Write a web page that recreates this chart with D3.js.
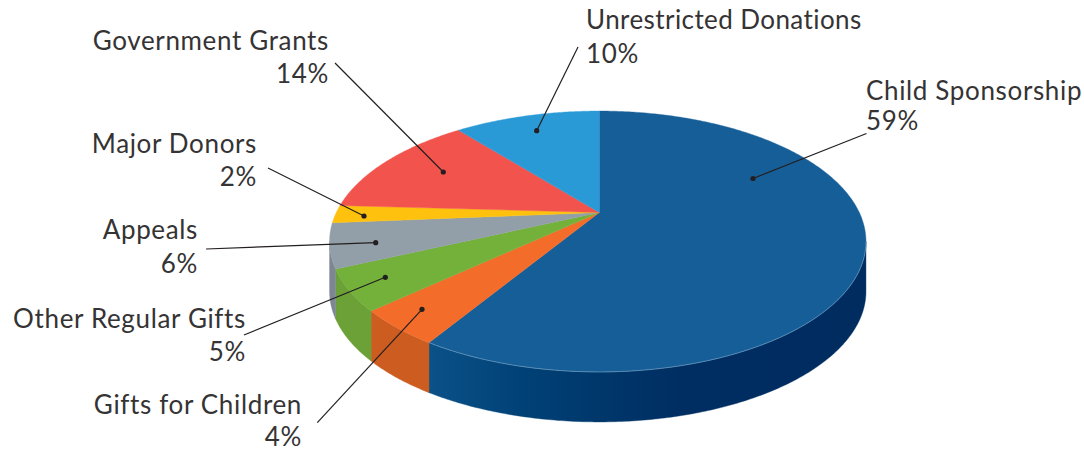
<!DOCTYPE html>
<html>
<head>
<meta charset="utf-8">
<script src="https://cdn.jsdelivr.net/npm/d3@7"></script>
<style>
html, body { margin: 0; padding: 0; background: #fff; }
svg { display: block; }
text { font-family: Lato, "Open Sans", sans-serif; font-size: 26px; letter-spacing: 0.65px; fill: #353334; }
</style>
</head>
<body>
<svg width="1084" height="451"></svg>
<script>
// clockwise from 12 o'clock
const categories = ["Child Sponsorship", "Gifts for Children", "Other Regular Gifts", "Appeals", "Major Donors", "Government Grants", "Unrestricted Donations"];
const percentLabels = ["59%", "4%", "5%", "6%", "2%", "14%", "10%"];
// wedge sizes as measured on the drawing (differ slightly from the printed labels)
const wedgeShares = [58.8, 4.4, 5, 5.5, 2.2, 13.3, 10.8];
const topColors = ["#165e97", "#f36c29", "#73b13b", "#929ea8", "#fec20e", "#f2544d", "#2a9ad7"];
const sideColors = ["url(#blueSide)", "#cc5c20", "#6ba136", "#7c8791", "#d9a50c", "#c9453f", "#2382b8"];

// label placement: text anchor, line 1 baseline, line 2 baseline, leader start, leader end (dot)
const callouts = [
  { x: 866, anchor: "start", y1: 99.5, y2: 129.5, from: [866.5, 133.5], to: [753, 178.5] },
  { x: 302, anchor: "end", y1: 414, y2: 445.5, from: [317.3, 422.7], to: [422, 309.3] },
  { x: 246, anchor: "end", y1: 328, y2: 361, from: [244, 335], to: [385.3, 277.3] },
  { x: 198, anchor: "end", y1: 239, y2: 273, from: [206, 249], to: [375.7, 242.7] },
  { x: 257, anchor: "end", y1: 153, y2: 186, from: [268, 168], to: [364, 216] },
  { x: 329, anchor: "end", y1: 50, y2: 83, from: [335, 63], to: [443.3, 172] },
  { x: 586, anchor: "start", y1: 29, y2: 63, from: [578, 47], to: [536.7, 130.7], spacing: 0.42 }
];

const svg = d3.select("svg");

// the disc is seen in perspective, so the centre sits above the middle of the ellipse
// left half is a touch wider than the right in the original
const cx = 599.3, cy = 212.5, depth = 50;
const persp = -0.2222, scaleRight = 260, scaleLeft = 263, scaleV = 124;

function project(angle, r = 1) {
  const u = r * Math.sin(angle), v = -r * Math.cos(angle);
  const w = 1 + persp * v;
  return [cx + (u > 0 ? scaleRight : scaleLeft) * u / w, cy + scaleV * v / w];
}

function arcPoints(a0, a1) {
  const n = Math.max(2, Math.ceil((a1 - a0) / 0.01));
  return d3.range(n + 1).map(i => project(a0 + (a1 - a0) * i / n));
}

const line = d3.line();
const pie = d3.pie().sort(null).value(d => d);
const slices = pie(wedgeShares);

const defs = svg.append("defs");
const grad = defs.append("linearGradient")
  .attr("id", "blueSide")
  .attr("gradientUnits", "userSpaceOnUse")
  .attr("x1", 428).attr("x2", 866).attr("y1", 0).attr("y2", 0);
[[0, "#0b5288"], [0.22, "#004176"], [0.45, "#003468"], [0.6, "#002d62"], [1, "#002c60"]].forEach(s => {
  grad.append("stop").attr("offset", s[0]).attr("stop-color", s[1]);
});

// only the front of the rim is visible: between the two side extremes of the ellipse
const frontStart = Math.PI / 2 + Math.asin(-persp);
const frontEnd = 2 * Math.PI - frontStart;

const sides = svg.append("g");
slices.forEach((d, i) => {
  const a0 = Math.max(d.startAngle, frontStart), a1 = Math.min(d.endAngle, frontEnd);
  if (a1 <= a0) return;
  const rim = arcPoints(a0, a1);
  const lower = rim.map(p => [p[0], p[1] + depth]).reverse();
  sides.append("path")
    .attr("d", line(rim.concat(lower)) + "Z")
    .attr("fill", sideColors[i])
    .attr("stroke", sideColors[i])
    .attr("stroke-width", 0.4);
});

const tops = svg.append("g");
slices.forEach((d, i) => {
  tops.append("path")
    .attr("d", line([[cx, cy]].concat(arcPoints(d.startAngle, d.endAngle))) + "Z")
    .attr("fill", topColors[i])
    .attr("stroke", topColors[i])
    .attr("stroke-width", 0.4);
});

// thin light edge along the front of the big slice
svg.append("path")
  .attr("d", line(arcPoints(frontStart, slices[0].endAngle)))
  .attr("fill", "none")
  .attr("stroke", "#6f9cc0")
  .attr("stroke-width", 0.7);

callouts.forEach((c, i) => {
  svg.append("line")
    .attr("x1", c.from[0]).attr("y1", c.from[1])
    .attr("x2", c.to[0]).attr("y2", c.to[1])
    .attr("stroke", "#231f20")
    .attr("stroke-width", 1.2);
  svg.append("circle")
    .attr("cx", c.to[0]).attr("cy", c.to[1])
    .attr("r", 2.6)
    .attr("fill", "#231f20");
  const name = svg.append("text").attr("x", c.x).attr("y", c.y1).attr("text-anchor", c.anchor).text(categories[i]);
  if (c.spacing) name.style("letter-spacing", c.spacing + "px");
  svg.append("text").attr("x", c.x).attr("y", c.y2).attr("text-anchor", c.anchor).text(percentLabels[i]);
});
</script>
</body>
</html>
